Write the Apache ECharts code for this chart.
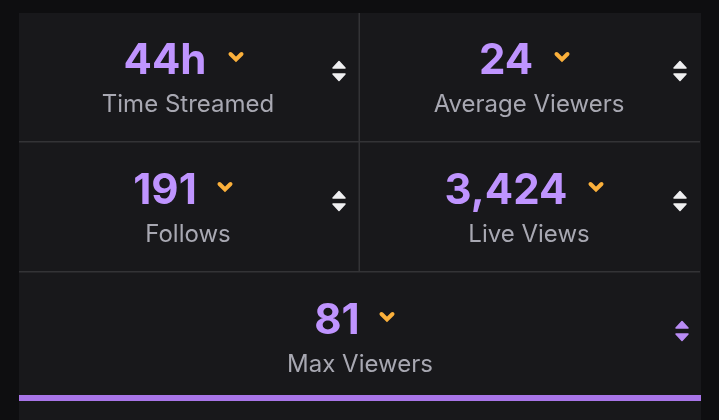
<!DOCTYPE html>
<html>
<head>
<meta charset="utf-8">
<style>
  html, body { margin: 0; padding: 0; background: #0e0e10; }
  #chart { width: 719px; height: 420px; }
</style>
<script src="https://cdn.jsdelivr.net/npm/echarts@6/dist/echarts.min.js"></script>
</head>
<body>
<div id="chart"></div>
<script>
const statLabels = ['Time Streamed', 'Average Viewers', 'Follows', 'Live Views', 'Max Viewers'];
const statValues = ['44h', '24', '191', '3,424', '81'];

// card geometry, one entry per stat
const layout = [
  { vx: 165, lx: 188, vy: 61, ly: 104.5, cx: 236, sx: 339 },
  { vx: 506, lx: 529, vy: 61, ly: 104.5, cx: 562, sx: 680 },
  { vx: 165, lx: 188, vy: 191, ly: 234.5, cx: 225, sx: 339 },
  { vx: 506, lx: 529, vy: 191, ly: 234.5, cx: 596, sx: 680 },
  { vx: 337, lx: 360, vy: 321, ly: 364.5, cx: 387, sx: 682 },
];

const PURPLE = '#bf94ff';
const BAR = '#a875e8';
const AMBER = '#fbb03b';
const LINE = '#333336';
const FONT = 'Inter, "Noto Sans", sans-serif';

function rect(x, y, width, height, fill) {
  return { type: 'rect', shape: { x, y, width, height }, style: { fill } };
}
function text(x, y, str, size, weight, fill, spacing) {
  return {
    type: 'text', x, y,
    style: { text: str, fontFamily: FONT, fontSize: size, fontWeight: weight, fill, align: 'center', verticalAlign: 'middle' },
  };
}
function chevron(x, y) {
  return {
    type: 'polyline',
    shape: { points: [[x - 5.5, y - 3], [x, y + 2.5], [x + 5.5, y - 3]] },
    style: { stroke: AMBER, lineWidth: 4, fill: null, lineJoin: 'miter', lineCap: 'round' },
  };
}
function sorter(x, y, fill) {
  const tri = (pts) => ({
    type: 'polygon',
    shape: { points: pts },
    style: { fill, stroke: fill, lineWidth: 1.5, lineJoin: 'round' },
  });
  return [
    tri([[x - 6, y - 3], [x, y - 9.5], [x + 6, y - 3]]),
    tri([[x - 6, y + 3], [x, y + 9.5], [x + 6, y + 3]]),
  ];
}

const elements = [
  rect(19, 13, 682, 407, '#18181b'),
  rect(19, 141, 681, 1.5, LINE),
  rect(19, 271, 681, 1.5, LINE),
  rect(358.5, 13, 1.5, 258, LINE),
  rect(19, 395, 682, 6, BAR),
];

statLabels.forEach((label, i) => {
  const p = layout[i];
  elements.push(text(p.vx, p.vy, statValues[i], 42, 700, PURPLE));
  elements.push(text(p.lx, p.ly, label, 24, 400, '#a8a8b2'));
  elements.push(chevron(p.cx, p.vy - 4));
  elements.push(...sorter(p.sx, p.vy + 10, i === 4 ? '#b98cf5' : '#efeff1'));
});

const chart = echarts.init(document.getElementById('chart'), null, { renderer: 'canvas' });
chart.setOption({
  animation: false,
  backgroundColor: '#0e0e10',
  graphic: { elements },
});
</script>
</body>
</html>
